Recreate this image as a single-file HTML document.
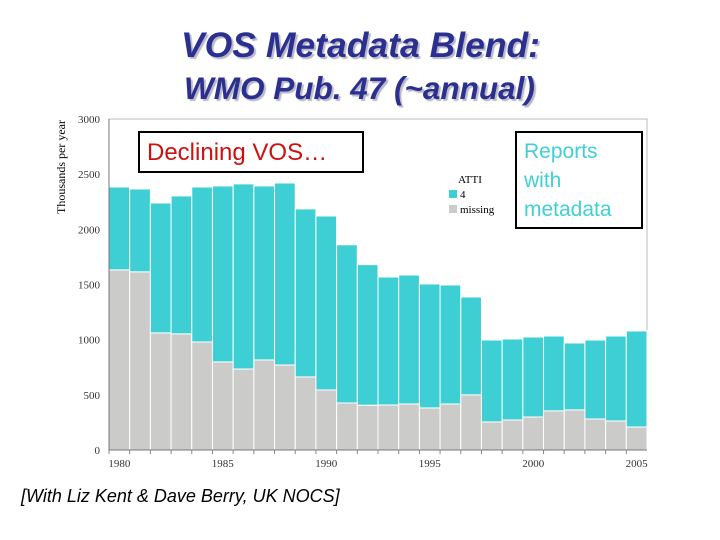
<!DOCTYPE html>
<html><head><meta charset="utf-8"><style>
body{margin:0;background:#fff;}
#wrap{position:relative;width:720px;height:540px;overflow:hidden;font-family:"Liberation Sans",sans-serif;}
.t{position:absolute;white-space:nowrap;font-weight:bold;font-style:italic;color:#2b2f8f;text-shadow:2px 2px 1px #b8b8c8;}
svg text{font-family:"Liberation Serif",serif;}
</style></head><body>
<div id="wrap">
<div class="t" style="left:181px;top:25px;font-size:35.5px;">VOS Metadata Blend:</div>
<div class="t" style="left:184px;top:70px;font-size:31.5px;">WMO Pub. 47 (~annual)</div>
<svg id="chart" width="720" height="540" style="position:absolute;left:0;top:0"></svg>
<div style="position:absolute;left:138px;top:131px;width:226px;height:42px;border:2px solid #000;background:#fff;box-sizing:border-box;color:#cc1111;font-size:24px;line-height:40px;padding-left:7px;">Declining VOS…</div>
<div style="position:absolute;left:515px;top:131px;width:128px;height:98px;border:2px solid #000;background:#fff;box-sizing:border-box;color:#3fd0d6;font-size:21px;line-height:29px;padding:4px 0 0 7px;">Reports<br>with<br>metadata</div>
<div style="position:absolute;left:21px;top:486px;font-size:18px;font-style:italic;color:#000;">[With Liz Kent &amp; Dave Berry, UK NOCS]</div>
</div>
<script>
const years=[1980,1981,1982,1983,1984,1985,1986,1987,1988,1989,1990,1991,1992,1993,1994,1995,1996,1997,1998,1999,2000,2001,2002,2003,2004,2005];
const totals=[2384,2366,2239,2303,2384,2393,2412,2393,2420,2185,2121,1860,1680,1568,1586,1505,1496,1387,997,1006,1024,1033,970,997,1033,1079];
const missing=[1632,1614,1061,1052,979,798,734,816,770,662,544,426,405,408,417,381,417,499,254,272,299,354,363,281,263,208];
const yTicks=[0,500,1000,1500,2000,2500,3000];
const xTickLabels=[1980,1985,1990,1995,2000,2005];
const NS="http://www.w3.org/2000/svg";
const svg=document.getElementById('chart');
const X0=109,X1=647,Y0=450,Y1=119,YMAX=3000;
const bw=(X1-X0)/years.length;
function y(v){return Y0-(v/YMAX)*(Y0-Y1);}
function xl(i){return X0+i*bw;}
function mk(t,a){const e=document.createElementNS(NS,t);for(const k in a)e.setAttribute(k,a[k]);svg.appendChild(e);return e;}
let e;
e=mk('rect',{x:X0,y:Y1,width:X1-X0,height:Y0-Y1,fill:'#fff',stroke:'#bbb','stroke-width':1});


years.forEach((yr,i)=>{
  e=mk('rect',{x:xl(i),y:y(totals[i]),width:bw,height:y(missing[i])-y(totals[i]),fill:'#3ecfd4',stroke:'#fff','stroke-width':1});
  
  
  e=mk('rect',{x:xl(i),y:y(missing[i]),width:bw,height:Y0-y(missing[i]),fill:'#cbcbc9',stroke:'#fff','stroke-width':1});
  
  
  e=mk('line',{x1:xl(i),x2:xl(i),y1:Y0,y2:Y0+4,stroke:'#888'});
  
  
});
e=mk('line',{x1:X0,x2:X0,y1:Y1,y2:Y0,stroke:'#777'});


e=mk('line',{x1:X0,x2:X1,y1:Y0,y2:Y0,stroke:'#777'});


yTicks.forEach(v=>{
  e=mk('text',{x:100,y:y(v)+4,'text-anchor':'end','font-size':11,fill:'#333'});
  e.textContent=v;
  
  
});
xTickLabels.forEach(v=>{
  const i=years.indexOf(v);
  e=mk('text',{x:xl(i)+bw/2,y:467,'text-anchor':'middle','font-size':11,fill:'#333'});
  e.textContent=v;
  
  
});
e=mk('text',{x:0,y:0,'text-anchor':'middle','font-size':12,fill:'#000',transform:'translate(65,167) rotate(-90)'});
e.textContent='Thousands per year';


e=mk('text',{x:470,y:183,'text-anchor':'middle','font-size':11,fill:'#000'});
e.textContent='ATTI';


e=mk('rect',{x:449,y:190,width:8,height:8,fill:'#3ecfd4'});


e=mk('text',{x:460,y:198,'font-size':11,fill:'#000'});
e.textContent='4';


e=mk('rect',{x:449,y:205,width:8,height:8,fill:'#cbcbc9'});


e=mk('text',{x:460,y:213,'font-size':11,fill:'#000'});
e.textContent='missing';


</script>
</body></html>
